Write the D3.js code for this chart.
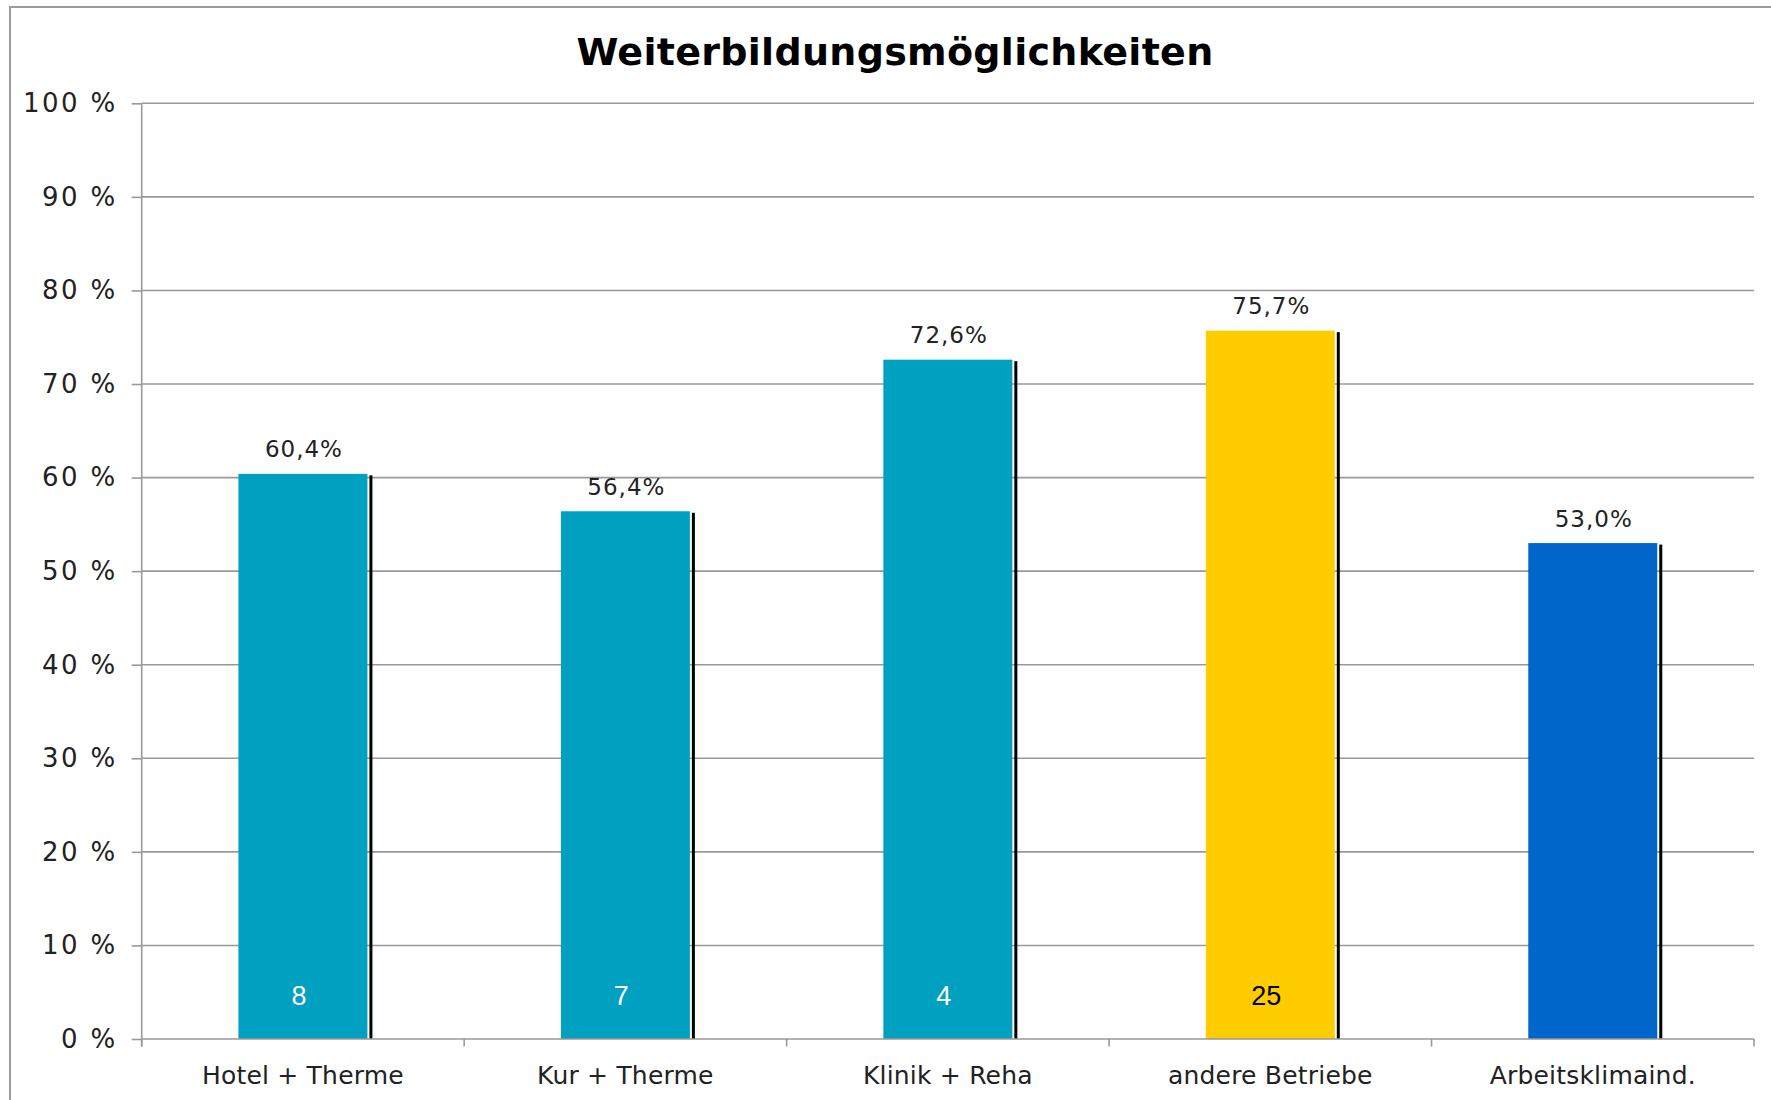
<!DOCTYPE html>
<html><head><meta charset="utf-8">
<script src="https://cdn.jsdelivr.net/npm/d3@7"></script>
<style>
html,body{margin:0;padding:0;background:#fff;}
svg{display:block;}
</style></head>
<body>
<svg id="chart" width="1771" height="1100"></svg>
<script>
const categories = ["Hotel + Therme", "Kur + Therme", "Klinik + Reha", "andere Betriebe", "Arbeitsklimaind."];
const values = [60.4, 56.4, 72.6, 75.7, 53.0];
const valueLabels = ["60,4%", "56,4%", "72,6%", "75,7%", "53,0%"];
const counts = ["8", "7", "4", "25", ""];
const barColors = ["#00A0C0", "#00A0C0", "#00A0C0", "#FFCC00", "#0066CC"];
const countColors = ["#ffffff", "#ffffff", "#ffffff", "#000000", "#ffffff"];
const yTicks = [0, 10, 20, 30, 40, 50, 60, 70, 80, 90, 100];
const title = "Weiterbildungsmöglichkeiten";

(function () {
const svg = d3.select("#chart");
const pL = 141.7, pR = 1754, pT = 103.3, pB = 1039;

// outer frame
svg.append("rect").attr("x", 10).attr("y", 7).attr("width", 1800).attr("height", 1200)
  .attr("fill", "none").attr("stroke", "#9a9a9a").attr("stroke-width", 2);

svg.append("text").attr("x", 895).attr("y", 65).attr("text-anchor", "middle")
  .attr("font-family", "DejaVu Sans").attr("font-weight", "bold").attr("font-size", 38)
  .attr("letter-spacing", 0.3)
  .attr("fill", "#000").text(title);

const y = d3.scaleLinear().domain([0, 100]).range([pB, pT]);
const xCat = d3.scaleBand().domain(categories).range([pL, pR]).padding(0);
const xBar = d3.scaleBand().domain(categories).range([pL, pR]).paddingInner(0.6).paddingOuter(0.3);

// gridlines
svg.append("g").selectAll("line").data(yTicks.filter(d => d > 0)).join("line")
  .attr("x1", pL).attr("x2", pR).attr("y1", d => y(d)).attr("y2", d => y(d))
  .attr("stroke", "#999").attr("stroke-width", 1.6);

// y axis
const yAxis = d3.axisLeft(y).tickValues(yTicks).tickSize(10).tickPadding(14).tickFormat(d => d + " %");
const gy = svg.append("g").attr("transform", `translate(${pL},0)`).call(yAxis);
gy.select(".domain").remove();
gy.selectAll(".tick line").attr("stroke", "#999").attr("stroke-width", 1.6);
gy.selectAll(".tick text").attr("font-family", "DejaVu Sans").attr("font-size", 26)
  .attr("letter-spacing", 2.4).attr("fill", "#222");
svg.append("line").attr("x1", pL).attr("x2", pL).attr("y1", pT).attr("y2", pB + 7.5)
  .attr("stroke", "#999").attr("stroke-width", 1.6);

// bars
const bw = xBar.bandwidth();
svg.append("g").selectAll("rect").data(categories).join("rect")
  .attr("x", d => xBar(d) + bw + 2).attr("width", 3)
  .attr("y", (d, i) => y(values[i]) + 1.5).attr("height", (d, i) => pB - y(values[i]) - 1.5)
  .attr("fill", "#000");
svg.append("g").selectAll("rect").data(categories).join("rect")
  .attr("x", d => xBar(d)).attr("width", bw)
  .attr("y", (d, i) => y(values[i])).attr("height", (d, i) => pB - y(values[i]))
  .attr("fill", (d, i) => barColors[i]);

// x axis
const gx = svg.append("g").attr("transform", `translate(0,${pB})`);
gx.append("line").attr("x1", pL).attr("x2", pR).attr("stroke", "#999").attr("stroke-width", 1.6);
const bounds = categories.map(d => xCat(d)).concat([pR]);
gx.selectAll("line.tk").data(bounds).join("line").attr("class", "tk")
  .attr("x1", d => d).attr("x2", d => d).attr("y1", 0).attr("y2", 7.5)
  .attr("stroke", "#999").attr("stroke-width", 1.6);
gx.selectAll("text").data(categories).join("text")
  .attr("x", d => xCat(d) + xCat.bandwidth() / 2).attr("y", 45)
  .attr("text-anchor", "middle").attr("font-family", "DejaVu Sans").attr("font-size", 25)
  .attr("letter-spacing", 0.2)
  .attr("fill", "#222").text(d => d);

// value labels
svg.append("g").selectAll("text").data(categories).join("text")
  .attr("x", d => xBar(d) + bw / 2 + 1).attr("y", (d, i) => y(values[i]) - 16.5)
  .attr("text-anchor", "middle").attr("font-family", "DejaVu Sans").attr("font-size", 23)
  .attr("letter-spacing", 1)
  .attr("fill", "#222").text((d, i) => valueLabels[i]);

// counts
svg.append("g").selectAll("text").data(categories).join("text")
  .attr("x", d => xBar(d) + bw / 2 - 4).attr("y", pB - 34)
  .attr("text-anchor", "middle").attr("font-family", "Liberation Sans").attr("font-size", 27)
  .attr("fill", (d, i) => countColors[i]).text((d, i) => counts[i]);
})();
</script>
</body></html>
